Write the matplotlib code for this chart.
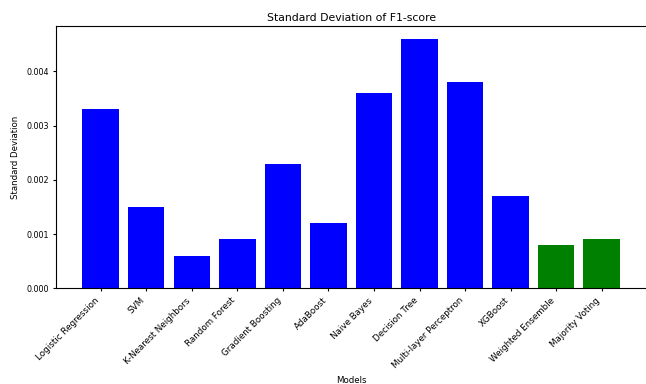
import matplotlib
matplotlib.use("Agg")
import matplotlib.pyplot as plt

models = ["Logistic Regression", "SVM", "K-Nearest Neighbors", "Random Forest",
          "Gradient Boosting", "AdaBoost", "Naive Bayes", "Decision Tree",
          "Multi-layer Perceptron", "XGBoost", "Weighted Ensemble", "Majority Voting"]
std_f1 = [0.0033, 0.0015, 0.0006, 0.0009, 0.0023, 0.0012, 0.0036, 0.0046,
          0.0038, 0.0017, 0.0008, 0.0009]
bar_colors = ["blue"] * 10 + ["green"] * 2

fig = plt.figure(figsize=(6.46, 3.84), dpi=100)
ax = fig.add_axes([55.6 / 646, 1 - 288.3 / 384, 591.2 / 646, 262.0 / 384])

ax.bar(models, std_f1, color=bar_colors)
ax.set_title("Standard Deviation of F1-score", fontsize=7.8, pad=4)
ax.set_xlabel("Models", fontsize=6.2)
ax.set_ylabel("Standard Deviation", fontsize=6.2, labelpad=5)
ax.tick_params(axis="both", length=2.5, pad=2)
ax.tick_params(axis="y", labelsize=5.8)
ax.tick_params(axis="x", labelsize=6.3, pad=3)
plt.setp(ax.get_xticklabels(), rotation=45, ha="right")
ax.yaxis.set_major_formatter(matplotlib.ticker.FormatStrFormatter("%.3f"))
# the right edge of the frame falls at the border of the canvas
ax.spines["right"].set_visible(False)

fig.savefig("out.png", dpi=100)
